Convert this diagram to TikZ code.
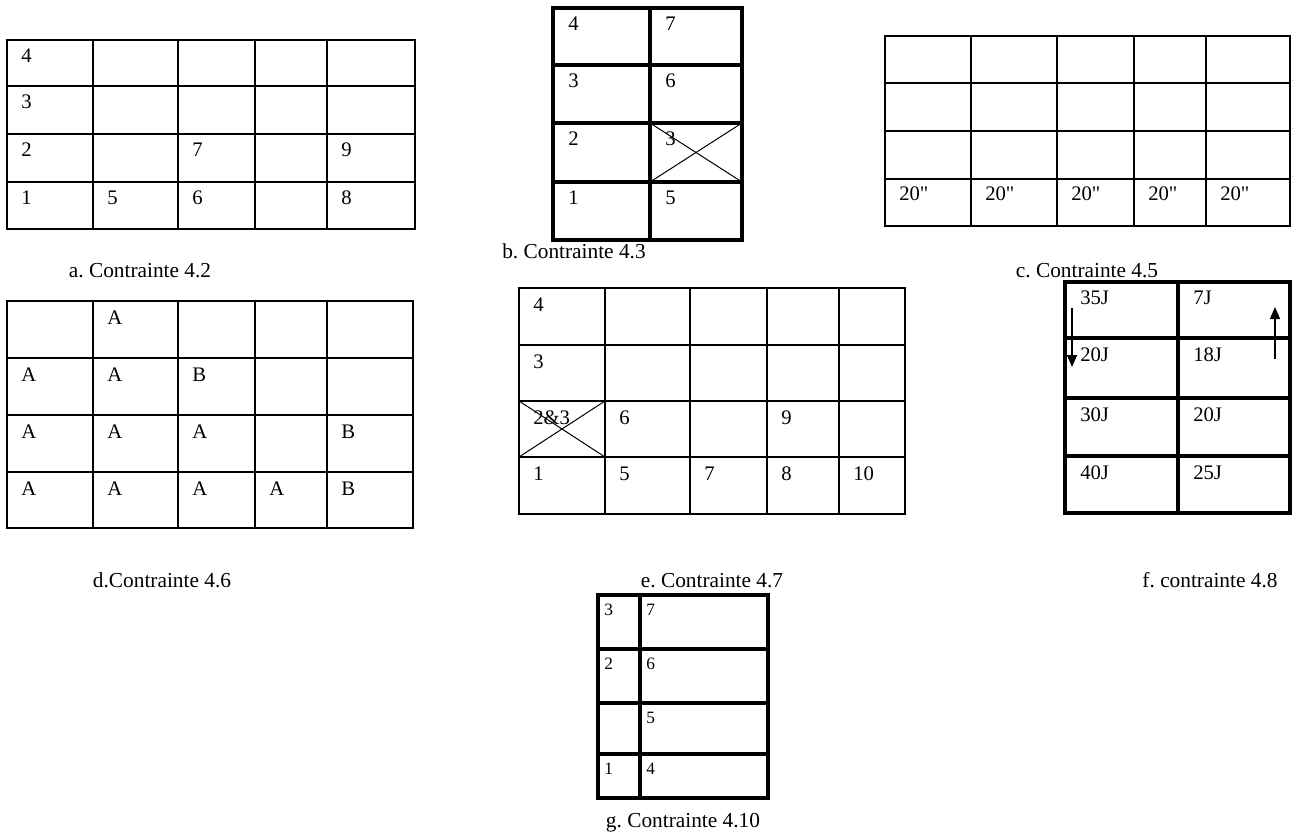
\documentclass[tikz,border=0pt]{standalone}
\usepackage{fontspec}
\setmainfont{Liberation Serif}
\newfontfamily\plainserif{Liberation Serif}
\usetikzlibrary{arrows.meta,positioning,calc}
\frenchspacing
\newcommand{\inch}{{\plainserif"}}
\tikzset{
  grid/.style={draw=black,line width=1.5pt},
  thickgrid/.style={draw=black,line width=2.3pt},
  cross/.style={draw=black,line width=0.75pt},
  cell/.style={anchor=base west,inner sep=0pt,font=\fontsize{15.5}{18}\selectfont},
  smallcell/.style={anchor=base west,inner sep=0pt,font=\fontsize{13}{15}\selectfont},
  caption/.style={anchor=base,inner sep=0pt,font=\fontsize{16}{19}\selectfont},
  arr/.style={-{Triangle[length=9pt,width=7.5pt]},draw=black,line width=1.1pt}
}

\begin{document}
\begin{tikzpicture}[x=0.75pt,y=-0.75pt]
  \useasboundingbox (0,0) rectangle (1295,834);

  % a. Contrainte 4.2
  \draw[grid] (7,40) rectangle (415,229);
  \foreach \x in {93,178,255,327} \draw[grid] (\x,40) -- (\x,229);
  \foreach \y in {86,134,182} \draw[grid] (7,\y) -- (415,\y);
  \node[cell] (a-4) at (21,63) {4};
  \node[cell] (a-3) at (21,109) {3};
  \foreach \x/\t in {7/2,178/7,327/9} \node[cell] (a-\t) at (\x+14,157) {\t};
  \foreach \x/\t in {7/1,93/5,178/6,327/8} \node[cell] (a-\t) at (\x+14,205) {\t};
  \node[caption] (capa) at (140,277) {a. Contrainte 4.2};

  % b. Contrainte 4.3
  \draw[thickgrid] (553,8) rectangle (742,240);
  \draw[thickgrid] (650,8) -- (650,240);
  \foreach \y in {65,123,182} \draw[thickgrid] (553,\y) -- (742,\y);
  \foreach \y/\l/\r [count=\i] in {31/4/7,88/3/6,146/2/3,205/1/5} {
    \node[cell] (b-\i-1) at (568,\y) {\l};
    \node[cell] (b-\i-2) at (665,\y) {\r};
  }
  \draw[cross] (650,123) -- (742,182);
  \draw[cross] (650,182) -- (742,123);
  \node[caption] (capb) at (574,258) {b. Contrainte 4.3};

  % c. Contrainte 4.5
  \draw[grid] (885,36) rectangle (1290,226);
  \foreach \x in {971,1057,1134,1206} \draw[grid] (\x,36) -- (\x,226);
  \foreach \y in {83,131,179} \draw[grid] (885,\y) -- (1290,\y);
  \foreach \x [count=\i] in {885,971,1057,1134,1206} \node[cell] (c-\i) at (\x+14,201) {20\inch};
  \node[caption] (capc) at (1087,277) {c. Contrainte 4.5};

  % d. Contrainte 4.6
  \draw[grid] (7,301) rectangle (413,528);
  \foreach \x in {93,178,255,327} \draw[grid] (\x,301) -- (\x,528);
  \foreach \y in {358,415,472} \draw[grid] (7,\y) -- (413,\y);
  \node[cell] (d-1-2) at (107,324) {A};
  \foreach \x/\t [count=\i] in {7/A,93/A,178/B} \node[cell] (d-2-\i) at (\x+14,381) {\t};
  \foreach \x/\t [count=\i] in {7/A,93/A,178/A,327/B} \node[cell] (d-3-\i) at (\x+14,438) {\t};
  \foreach \x/\t [count=\i] in {7/A,93/A,178/A,255/A,327/B} \node[cell] (d-4-\i) at (\x+14,495) {\t};
  \node[caption] (capd) at (162,587) {d.Contrainte 4.6};

  % e. Contrainte 4.7
  \draw[grid] (519,288) rectangle (905,514);
  \foreach \x in {605,690,767,839} \draw[grid] (\x,288) -- (\x,514);
  \foreach \y in {345,401,457} \draw[grid] (519,\y) -- (905,\y);
  \node[cell] (e-4) at (533,311) {4};
  \node[cell] (e-3) at (533,368) {3};
  \foreach \x/\t in {519/2\&3,605/6,767/9} \node[cell] (e-\x) at (\x+14,424) {\t};
  \foreach \x/\t in {519/1,605/5,690/7,767/8,839/10} \node[cell] (e-\t) at (\x+14,480) {\t};
  \draw[cross] (519,401) -- (605,457);
  \draw[cross] (519,457) -- (605,401);
  \node[caption] (cape) at (712,587) {e. Contrainte 4.7};

  % f. contrainte 4.8
  \draw[thickgrid] (1065,282) rectangle (1290,513);
  \draw[thickgrid] (1178,282) -- (1178,513);
  \foreach \y in {338,398,456} \draw[thickgrid] (1065,\y) -- (1290,\y);
  \foreach \y/\l/\r [count=\i] in {305/35J/7J,361/20J/18J,421/30J/20J,479/40J/25J} {
    \node[cell] (f-\i-1) at (1080,\y) {\l};
    \node[cell] (f-\i-2) at (1193,\y) {\r};
  }
  \coordinate (fdown0) at (1072,308);
  \coordinate (fdown1) at (1072,367);
  \coordinate (fup0) at (1275,359);
  \coordinate (fup1) at (1275,307);
  \draw[arr] (fdown0) -- (fdown1);
  \draw[arr] (fup0) -- (fup1);
  \node[caption] (capf) at (1210,587) {f. contrainte 4.8};

  % g. Contrainte 4.10
  \draw[thickgrid] (598,595) rectangle (768,798);
  \draw[thickgrid] (640,595) -- (640,798);
  \foreach \y in {649,703,754} \draw[thickgrid] (598,\y) -- (768,\y);
  \foreach \y/\l/\r [count=\i] in {615/3/7,669/2/6,723//5,774/1/4} {
    \node[smallcell] (g-\i-1) at (604,\y) {\l};
    \node[smallcell] (g-\i-2) at (646,\y) {\r};
  }
  \node[caption] (capg) at (683,827) {g. Contrainte 4.10};
\end{tikzpicture}
\end{document}
